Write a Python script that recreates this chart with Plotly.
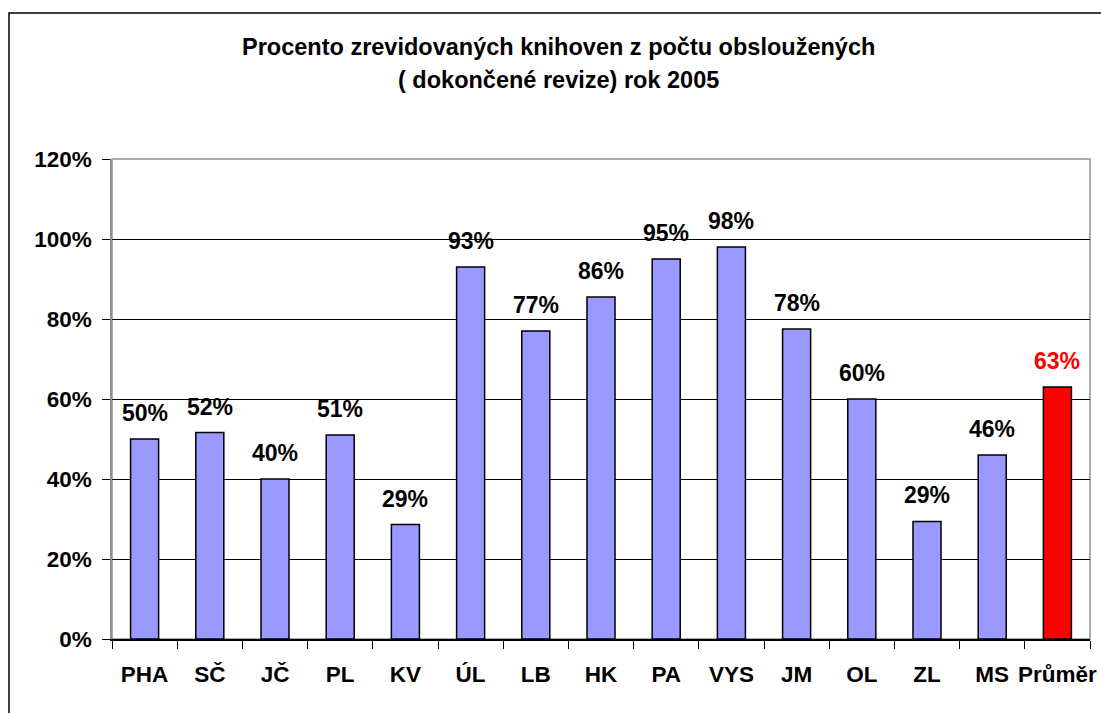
import plotly.graph_objects as go

categories = ["PHA", "SČ", "JČ", "PL", "KV", "ÚL", "LB", "HK", "PA", "VYS", "JM", "OL", "ZL", "MS", "Průměr"]
values = [0.50, 0.516, 0.40, 0.51, 0.286, 0.93, 0.77, 0.855, 0.95, 0.98, 0.775, 0.60, 0.294, 0.46, 0.63]
bar_colors = ["#9999FF"] * 14 + ["#FF0000"]
label_colors = ["#000000"] * 14 + ["#FF0000"]
y_ticks = [0, 0.2, 0.4, 0.6, 0.8, 1.0, 1.2]
title_lines = ["Procento zrevidovaných knihoven z počtu obsloužených", "( dokončené revize) rok 2005"]

FONT = "Liberation Sans, Arial, sans-serif"

W, H = 1101, 713
L, T = 112, 159
pw, ph = 978, 480
R, B = W - L - pw, H - T - ph

def px_x(x):  # screen px -> paper x
    return (x - L) / pw

def px_y(y):  # screen px -> paper y
    return 1 - (y - T) / ph

fig = go.Figure()
fig.add_trace(go.Bar(
    x=categories, y=values,
    marker=dict(color=bar_colors, line=dict(color="#000000", width=1.5)),
    width=0.43,
    hoverinfo="x+y",
))

for c, v, col in zip(categories, values, label_colors):
    fig.add_annotation(
        x=c, y=v, xref="x", yref="y",
        text=f"{round(v*100):d}%",
        showarrow=False, yanchor="middle", yshift=26,
        font=dict(family=FONT, size=23, color=col, weight="bold"),
    )

for line, yc in zip(title_lines, [47, 80]):
    fig.add_annotation(
        x=px_x(558), y=px_y(yc), xref="paper", yref="paper",
        text=line, showarrow=False, xanchor="center", yanchor="middle",
        font=dict(family=FONT, size=23.5, color="#000000", weight="bold"),
    )

# outer chart frame (extends past window edge)
fig.add_shape(type="rect", xref="paper", yref="paper",
              x0=px_x(9), x1=px_x(1130), y0=px_y(740), y1=px_y(13),
              line=dict(color="#000000", width=1.5), fillcolor="rgba(0,0,0,0)", layer="below")
# plot area border
fig.add_shape(type="rect", xref="paper", yref="paper", x0=0, x1=1, y0=0, y1=1,
              line=dict(color="#909090", width=1.5), fillcolor="rgba(0,0,0,0)", layer="below")

fig.update_layout(
    width=W, height=H,
    margin=dict(l=L, r=R, t=T, b=B, autoexpand=False),
    paper_bgcolor="white", plot_bgcolor="white",
    showlegend=False,
    font=dict(family=FONT, color="#000000"),
    xaxis=dict(
        type="category",
        showline=True, linecolor="#000000", linewidth=1.5,
        ticks="outside", tickson="boundaries", ticklen=8, tickcolor="#000000", tickwidth=1,
        tickfont=dict(family=FONT, size=22.5, weight="bold"),
        tickangle=0,
        ticklabelstandoff=14,
        showgrid=False,
        range=[-0.5, 14.5],
    ),
    yaxis=dict(
        range=[0, 1.2], tickvals=y_ticks, tickformat=".0%",
        showline=True, linecolor="#909090", linewidth=1.5,
        ticks="outside", ticklen=8, tickcolor="#000000", tickwidth=1,
        tickfont=dict(family=FONT, size=22.5, weight="bold"),
        ticklabelstandoff=6,
        showgrid=True, gridcolor="#000000", gridwidth=1,
        zeroline=False,
    ),
)

fig.write_html("out.html",
               config={"displayModeBar": False},
               post_script="document.body.style.margin='0';document.body.style.overflow='hidden';")
